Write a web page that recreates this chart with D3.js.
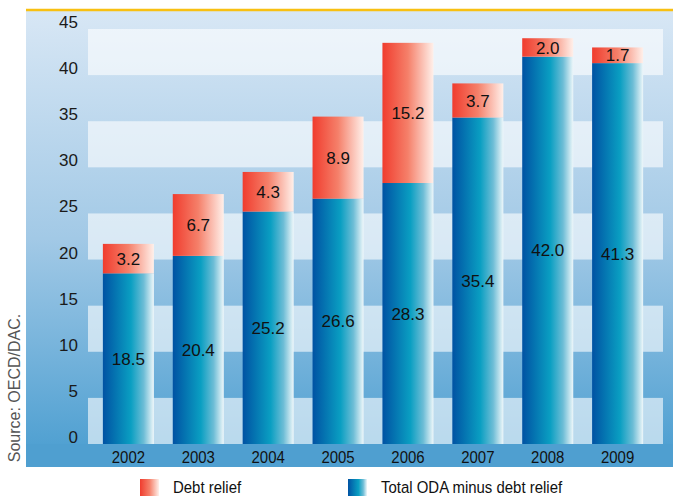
<!DOCTYPE html>
<html><head><meta charset="utf-8">
<script src="https://cdn.jsdelivr.net/npm/d3@7/dist/d3.min.js"></script>
<style>body{margin:0;background:#fff}svg{display:block}</style>
</head><body>
<svg id="c" width="673" height="496"></svg>
<script>
const years = ["2002","2003","2004","2005","2006","2007","2008","2009"];
const odaMinusDebt = [18.5, 20.4, 25.2, 26.6, 28.3, 35.4, 42.0, 41.3];
const debtRelief = [3.2, 6.7, 4.3, 8.9, 15.2, 3.7, 2.0, 1.7];
const yTicks = [0,5,10,15,20,25,30,35,40,45];
const seriesNames = ["Debt relief", "Total ODA minus debt relief"];

const svg = d3.select("#c");
const panel = {x0: 26, x1: 673, y0: 10, y1: 467};

const x = d3.scaleBand().domain(years).range([84, 662]).padding(0.27);
const y = d3.scaleLinear().domain([0, 45]).range([444, 29]);

const defs = svg.append("defs");
const bg = defs.append("linearGradient").attr("id","bg").attr("x1",0).attr("y1",0).attr("x2",0).attr("y2",1);
bg.append("stop").attr("offset","0%").attr("stop-color","#d8e7f5");
bg.append("stop").attr("offset","50%").attr("stop-color","#a2c9e6");
bg.append("stop").attr("offset","95%").attr("stop-color","#51a1d2");
bg.append("stop").attr("offset","100%").attr("stop-color","#4f9fd0");

const gb = defs.append("linearGradient").attr("id","gblue");
gb.append("stop").attr("offset","0%").attr("stop-color","#0052a3");
gb.append("stop").attr("offset","55%").attr("stop-color","#0a9fc2");
gb.append("stop").attr("offset","80%").attr("stop-color","#6dbdd6");
gb.append("stop").attr("offset","100%").attr("stop-color","#eef7fa");
const gr = defs.append("linearGradient").attr("id","gred");
gr.append("stop").attr("offset","0%").attr("stop-color","#f03c2e");
gr.append("stop").attr("offset","50%").attr("stop-color","#f5806a");
gr.append("stop").attr("offset","100%").attr("stop-color","#fff0ea");

svg.append("rect").attr("x",panel.x0).attr("y",panel.y0).attr("width",panel.x1-panel.x0).attr("height",panel.y1-panel.y0).attr("fill","url(#bg)");
svg.append("rect").attr("x",panel.x0).attr("y",y(0)).attr("width",panel.x1-panel.x0).attr("height",panel.y1-y(0)).attr("fill","#4f9fd0");
svg.append("line").attr("x1",panel.x0).attr("x2",panel.x1).attr("y1",panel.y0).attr("y2",panel.y0).attr("stroke","#f8c012").attr("stroke-width",2.5);

const bandX0 = x.range()[0] + 4, bandX1 = x.range()[1] + 1;
const bandPairs = d3.range(0, yTicks.length - 1, 2).map(i => [yTicks[i], yTicks[i+1]]);
svg.append("g").selectAll("rect").data(bandPairs).join("rect")
  .attr("x", bandX0).attr("width", bandX1 - bandX0)
  .attr("y", d => y(d[1])).attr("height", d => y(d[0]) - y(d[1]))
  .attr("fill", "#fff").attr("fill-opacity", 0.6);

svg.append("g").selectAll("text").data(yTicks).join("text")
  .attr("x", 78).attr("y", d => y(d) - 1)
  .attr("text-anchor","end")
  .attr("font-family","'Liberation Sans', Arial, sans-serif").attr("font-size",17).attr("fill","#1a1a1a")
  .text(d => d);

const data = years.map((yr,i) => ({yr, b: odaMinusDebt[i], r: debtRelief[i]}));
const g = svg.append("g");
g.selectAll("rect.b").data(data).join("rect").attr("class","b")
  .attr("x", d => x(d.yr)).attr("width", x.bandwidth())
  .attr("y", d => y(d.b)).attr("height", d => y(0) - y(d.b))
  .attr("fill","url(#gblue)");
g.selectAll("rect.r").data(data).join("rect").attr("class","r")
  .attr("x", d => x(d.yr)).attr("width", x.bandwidth())
  .attr("y", d => y(d.b + d.r)).attr("height", d => y(d.b) - y(d.b + d.r))
  .attr("fill","url(#gred)");

const lab = {family:"'Liberation Sans', Arial, sans-serif", size:17};
g.selectAll("text.bl").data(data).join("text").attr("class","bl")
  .attr("x", d => x(d.yr) + x.bandwidth()/2).attr("y", d => y(d.b/2))
  .attr("dy","0.36em").attr("text-anchor","middle")
  .attr("font-family",lab.family).attr("font-size",lab.size).attr("fill","#111")
  .text(d => d.b.toFixed(1));
g.selectAll("text.rl").data(data).join("text").attr("class","rl")
  .attr("x", d => x(d.yr) + x.bandwidth()/2).attr("y", d => y(d.b + d.r/2))
  .attr("dy","0.36em").attr("text-anchor","middle")
  .attr("font-family",lab.family).attr("font-size",lab.size).attr("fill","#111")
  .text(d => d.r.toFixed(1));

const narrow = "'Liberation Sans Narrow', 'Arial Narrow', 'Liberation Sans', sans-serif";
const sx = 0.88;
svg.append("g").selectAll("text").data(years).join("text")
  .attr("transform", d => `translate(${x(d) + x.bandwidth()/2},463) scale(${sx},1)`)
  .attr("text-anchor","middle").attr("font-family",narrow).attr("font-size",17).attr("fill","#111")
  .text(d => d);

svg.append("text").attr("transform","translate(20,388) rotate(-90)")
  .attr("text-anchor","middle").attr("font-family","'Liberation Sans', Arial, sans-serif")
  .attr("font-size",16).attr("fill","#555").text("Source: OECD/DAC.");

const leg = [{name: seriesNames[0], fill:"url(#gred)", x:140},{name: seriesNames[1], fill:"url(#gblue)", x:348}];
const lg = svg.append("g").selectAll("g").data(leg).join("g").attr("transform", d => `translate(${d.x},479)`);
lg.append("rect").attr("width",19).attr("height",17).attr("fill", d => d.fill);
lg.append("text").attr("transform",`translate(33,14) scale(${sx},1)`).attr("font-family",narrow).attr("font-size",17).attr("fill","#111").text(d => d.name);
</script>
</body></html>
